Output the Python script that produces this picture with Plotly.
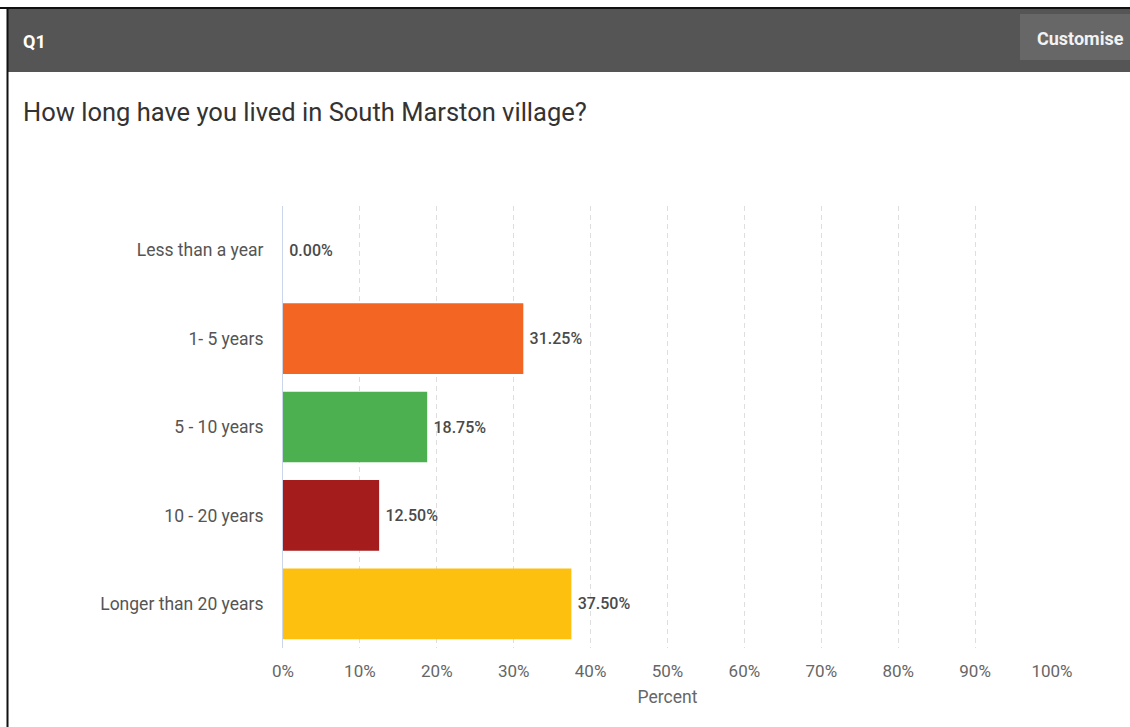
import plotly.graph_objects as go

# Survey responses for Q1
categories = ["Less than a year", "1- 5 years", "5 - 10 years", "10 - 20 years", "Longer than 20 years"]
percents = [0.00, 31.25, 18.75, 12.50, 37.50]
bar_colors = ["#3b7dd8", "#F26522", "#4CAF50", "#A51C1C", "#FDC00F"]
x_ticks = [0, 10, 20, 30, 40, 50, 60, 70, 80, 90, 100]
x_tick_labels = [f"{v}%" for v in x_ticks]

W, H = 1130, 727
FONT = "Roboto, Arial, sans-serif"


def px_x(p):
    return p / W


def px_y(p):
    return 1 - p / H


fig = go.Figure(
    go.Bar(
        x=percents,
        y=categories,
        orientation="h",
        marker=dict(color=bar_colors, line=dict(width=0)),
        width=0.8,
        text=[f"\u2009{v:.2f}%" for v in percents],
        textposition="outside",
        cliponaxis=False,
        textfont=dict(family=FONT, size=16, color="#4a4a4a", weight=500),
        hoverinfo="skip",
    )
)

fig.update_layout(
    width=W,
    height=H,
    autosize=False,
    margin=dict(l=0, r=0, t=0, b=0, pad=0),
    paper_bgcolor="white",
    plot_bgcolor="white",
    showlegend=False,
    font=dict(family=FONT, color="#555555"),
    bargap=0.2,
    xaxis=dict(
        domain=[px_x(283), px_x(1052)],
        range=[0, 100],
        automargin=False,
        tickvals=x_ticks,
        ticktext=x_tick_labels,
        showgrid=True,
        gridcolor="#dedede",
        griddash="5px,4px",
        gridwidth=1,
        zeroline=False,
        showline=False,
        ticks="outside",
        ticklen=8,
        tickcolor="rgba(0,0,0,0)",
        tickfont=dict(family=FONT, size=17, color="#666666"),
        title=dict(text="Percent", font=dict(family=FONT, size=17.5, color="#666666"), standoff=10),
        fixedrange=True,
    ),
    yaxis=dict(
        domain=[px_y(648), px_y(206)],
        automargin=False,
        categoryorder="array",
        categoryarray=categories,
        autorange="reversed",
        showgrid=False,
        zeroline=False,
        showline=True,
        linecolor="#ccd6eb",
        linewidth=1,
        ticks="outside",
        ticklen=15,
        tickcolor="rgba(0,0,0,0)",
        tickfont=dict(family=FONT, size=17.5, color="#555555"),
        fixedrange=True,
    ),
)

# Page chrome: outer frame, header bar and button
shapes = [
    dict(type="rect", xref="paper", yref="paper",
         x0=px_x(8), x1=1.0, y0=px_y(72), y1=px_y(9),
         fillcolor="#555555", line=dict(width=0), layer="below"),
    dict(type="rect", xref="paper", yref="paper",
         x0=px_x(1020), x1=1.0, y0=px_y(60), y1=px_y(14),
         fillcolor="#676767", line=dict(width=0), layer="below"),
    dict(type="line", xref="paper", yref="paper",
         x0=0, x1=1, y0=px_y(8), y1=px_y(8),
         line=dict(color="#111111", width=2)),
    dict(type="line", xref="paper", yref="paper",
         x0=px_x(7.5), x1=px_x(7.5), y0=0, y1=px_y(8),
         line=dict(color="#111111", width=2)),
]
fig.update_layout(shapes=shapes)

fig.add_annotation(
    text="<b>Q1</b>", xref="paper", yref="paper",
    x=px_x(21), y=px_y(41), xanchor="left", yanchor="middle",
    showarrow=False, font=dict(family=FONT, size=18, color="#ffffff"),
)
fig.add_annotation(
    text="<b>Customise</b>", xref="paper", yref="paper",
    x=px_x(1035), y=px_y(38), xanchor="left", yanchor="middle",
    showarrow=False, font=dict(family=FONT, size=18, color="#f2f2f2"),
)
fig.add_annotation(
    text="How long have you lived in South Marston village?", xref="paper", yref="paper",
    x=px_x(21), y=px_y(112), xanchor="left", yanchor="middle",
    showarrow=False, font=dict(family=FONT, size=25.5, color="#333333"),
)

fig.write_html("out.html", config={"displayModeBar": False, "responsive": False})
